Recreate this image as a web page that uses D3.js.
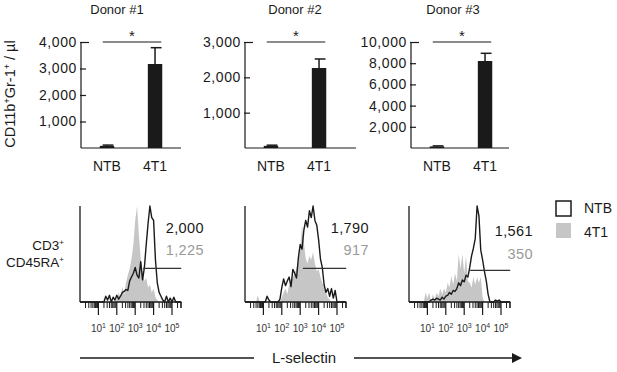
<!DOCTYPE html>
<html><head><meta charset="utf-8">
<script src="https://cdn.jsdelivr.net/npm/d3@7/dist/d3.min.js"></script>
<style>
html,body{margin:0;padding:0;background:#fff;}
svg{display:block;font-family:"Liberation Sans",Arial,Helvetica,sans-serif;}
</style></head>
<body>
<svg id="chart" width="617" height="372"></svg>
<script>
// ---------------- DATA ----------------
const donors = ["Donor #1", "Donor #2", "Donor #3"];
const groups = ["NTB", "4T1"];
const barMeans = [[80, 3170], [60, 2264], [150, 8208]];
const barErrors = [[30, 615], [20, 255], [50, 726]];
const barMax = [4000, 3000, 10000];
const barTicks1 = [1000, 2000, 3000, 4000];
const barTicks2 = [1000, 2000, 3000];
const barTicks3 = [2000, 4000, 6000, 8000, 10000];
const barTicks = [barTicks1, barTicks2, barTicks3];

// histograms: % of mode, sampled every 0.1 decade from 10^0 to 10^5.5
const ntbHist1 = [0,0,0,0,0,0,0,0,0,0,0,0,0,0, 6,2,7,0,5,2,7,3,6,10,11,13,12,22,26,30,36,28,25,42,23,36,60,82,100,88,85,44,20,10,6,2,0,6,0,4,0,5,0,0,0,0];
const t4Hist1  = [0,0,0,0,0,0,0,0,0,0,0,0,0,0,0,0,0,0,0,0, 3,10,4,16,8,20,28,35,45,60,85,100,70,45,30,22,25,15,18,10,14,5,2, 0,0,0,0,0,0,0,0,0,0,0,0,0];
const ntbHist2 = [0,0,0,0,0,0,0,0,0,0,0,0, 6,2,0,0,0,0,0,3,15,24,17,22,26,16,34,30,25,46,60,55,75,85,78,95,88,100,85,80,65,45,36,18,10,14,6,14,4,12,0,0,0,0,0,0];
const t4Hist2  = [0,0,0,0,0,0,0,7,0,0,0,0,0,0,0,0,0,0,0,0, 5,10,14,8,18,22,26,30,35,42,55,80,62,45,40,48,44,52,40,32,34,26,20,15,10,5,2, 0,0,0,0,0,0,0,0,0];
const ntbHist3 = [0,0,0,0,0,0,0,0,0,0,0,0, 2,3,2,4,3,2,5,3,6,7,10,8,12,11,14,20,17,23,21,28,26,36,48,56,66,100,90,54,44,32,22,8,0,0,0,2,1,2,0,0,0,0,0,0];
const t4Hist3  = [0,0,0,0,0,0,0,0,0, 10,4,10,0,8,3,10,6,14,8,14,10,20,15,27,18,30,22,50,35,50,30,48,22,20,15,26,18,26,20,26,5, 0,0,0,0,0,0,0,0,0,0,0,0,0,0,0];
const ntbHists = [ntbHist1, ntbHist2, ntbHist3];
const t4Hists = [t4Hist1, t4Hist2, t4Hist3];
const ntbCounts = ["2,000", "1,790", "1,561"];
const t4Counts = ["1,225", "917", "350"];
const gateStartLog = [3.43, 3.15, 3.32];
const gateLevel = [35, 35, 33];
const logTicks = [1, 2, 3, 4, 5];

// ---------------- LAYOUT ----------------
const svg = d3.select("#chart");
const ink = "#1a1a1a", grayFill = "#c6c6c6", grayText = "#9a9a9a";
const barLayout = [
  {axisX: 81, endX: 181, titleX: 117},
  {axisX: 245, endX: 356, titleX: 295},
  {axisX: 411, endX: 509, titleX: 453}
];
const barTop = 42, barBase = 148;

barLayout.forEach((L, p) => {
  const g = svg.append("g");
  const y = d3.scaleLinear().domain([0, barMax[p]]).range([barBase, barTop]);
  const x = d3.scaleBand().domain(groups).range([L.axisX, L.axisX + 100])
    .paddingInner(0.7).paddingOuter(0.39);
  g.append("text").attr("x", L.titleX).attr("y", 13.5).attr("text-anchor", "middle")
    .attr("font-size", 13).attr("fill", ink).text(donors[p]);
  const ax = g.append("g").attr("transform", `translate(${L.axisX},0)`)
    .call(d3.axisLeft(y).tickValues(barTicks[p]).tickSize(-5).tickPadding(4).tickFormat(d3.format(",")));
  ax.select(".domain").remove();
  ax.selectAll(".tick line").attr("stroke", ink).attr("stroke-width", 1.2)
    .attr("x1", -1).attr("x2", d => d === barMax[p] ? 8 : 5);
  ax.selectAll(".tick text").attr("font-size", 14).attr("fill", ink)
    .attr("font-family", "'Liberation Sans',Arial,sans-serif").attr("letter-spacing", 0.6);
  g.append("line").attr("x1", L.axisX).attr("x2", L.axisX).attr("y1", y(0)).attr("y2", y(barMax[p]))
    .attr("stroke", ink).attr("stroke-width", 1.2);
  g.append("line").attr("x1", L.axisX).attr("x2", L.endX).attr("y1", y(0)).attr("y2", y(0))
    .attr("stroke", ink).attr("stroke-width", 1.2);
  groups.forEach((c, i) => {
    const bx = x(c), bw = x.bandwidth();
    const v = barMeans[p][i], e = barErrors[p][i];
    g.append("line").attr("x1", bx + bw / 2).attr("x2", bx + bw / 2)
      .attr("y1", y(v)).attr("y2", y(v + e)).attr("stroke", ink).attr("stroke-width", 1.5);
    g.append("line").attr("x1", bx + bw * 0.2).attr("x2", bx + bw * 0.95)
      .attr("y1", y(v + e)).attr("y2", y(v + e)).attr("stroke", ink).attr("stroke-width", 1.5);
    g.append("rect").attr("x", bx).attr("y", y(v)).attr("width", bw).attr("height", y(0) - y(v))
      .attr("fill", ink);
    g.append("text").attr("x", bx + bw / 2).attr("y", 171).attr("text-anchor", "middle")
      .attr("font-size", 14).attr("fill", ink).text(c);
  });
  const s1 = x("NTB") + 3, s2 = x("4T1") + x.bandwidth() - 1;
  g.append("line").attr("x1", s1).attr("x2", s2).attr("y1", y(barMax[p])).attr("y2", y(barMax[p]))
    .attr("stroke", ink).attr("stroke-width", 1.2);
  g.append("text").attr("x", (s1 + s2) / 2).attr("y", 41).attr("text-anchor", "middle")
    .attr("font-size", 15).attr("fill", ink).text("*");
});

const yl = svg.append("text").attr("transform", "translate(15,94) rotate(-90)")
  .attr("text-anchor", "middle").attr("font-size", 14.5).attr("fill", ink);
yl.append("tspan").text("CD11b");
yl.append("tspan").attr("font-size", 9).attr("dy", -5).text("+");
yl.append("tspan").attr("dy", 5).text("Gr-1");
yl.append("tspan").attr("font-size", 9).attr("dy", -5).text("+");
yl.append("tspan").attr("dy", 5).text(" / µl");

// ---------------- HISTOGRAMS ----------------
const histLayout = [{axisX: 80, countY: [233, 255]}, {axisX: 245, countY: [233, 255]}, {axisX: 409, countY: [236, 259]}];
const hTop = 206, hBase = 302, decades = 5.5, pxDec = 18.4;

histLayout.forEach((L, p) => {
  const g = svg.append("g");
  const x = d3.scaleLog().domain([1, Math.pow(10, decades)]).range([L.axisX, L.axisX + decades * pxDec]);
  const y = d3.scaleLinear().domain([0, 100]).range([hBase, hTop]);
  const pts = arr => arr.map((v, i) => [Math.pow(10, i * 0.1), v]);
  g.append("path").datum(pts(t4Hists[p]))
    .attr("d", d3.area().x(d => x(d[0])).y0(y(0)).y1(d => y(d[1])))
    .attr("fill", grayFill);
  g.append("path").datum(pts(ntbHists[p]))
    .attr("d", d3.line().x(d => x(d[0])).y(d => y(d[1])))
    .attr("fill", "none").attr("stroke", ink).attr("stroke-width", 1.4).attr("stroke-linejoin", "round");
  g.append("line").attr("x1", L.axisX).attr("x2", L.axisX).attr("y1", hBase).attr("y2", hTop)
    .attr("stroke", ink).attr("stroke-width", 1.3);
  g.append("line").attr("x1", L.axisX).attr("x2", x.range()[1]).attr("y1", hBase).attr("y2", hBase)
    .attr("stroke", ink).attr("stroke-width", 1.3);
  const minor = [];
  for (let k = 0; k <= 5; k++) for (let m = 2; m <= 9; m++) {
    const v = m * Math.pow(10, k);
    if (v <= Math.pow(10, decades)) minor.push(v);
  }
  minor.push(Math.pow(10, decades));
  g.selectAll(".mn").data(minor).enter().append("line")
    .attr("x1", d => x(d)).attr("x2", d => x(d)).attr("y1", hBase).attr("y2", hBase + 6)
    .attr("stroke", ink).attr("stroke-width", 1);
  const major = logTicks.map(k => Math.pow(10, k));
  g.selectAll(".mj").data(major).enter().append("line")
    .attr("x1", d => x(d)).attr("x2", d => x(d)).attr("y1", hBase).attr("y2", hBase + 13)
    .attr("stroke", ink).attr("stroke-width", 1.2);
  logTicks.forEach(k => {
    const t = g.append("text").attr("x", x(Math.pow(10, k))).attr("y", 332)
      .attr("text-anchor", "middle").attr("font-size", 10).attr("fill", "#333");
    t.append("tspan").text("10");
    t.append("tspan").attr("font-size", 7).attr("dy", -4).text(String(k));
  });
  g.append("line").attr("x1", x(Math.pow(10, gateStartLog[p]))).attr("x2", x.range()[1])
    .attr("y1", y(gateLevel[p])).attr("y2", y(gateLevel[p]))
    .attr("stroke", "#333").attr("stroke-width", 1.3);
  g.append("text").attr("x", L.axisX + 124).attr("y", L.countY[0]).attr("text-anchor", "end")
    .attr("font-size", 14.5).attr("letter-spacing", 0.4).attr("fill", ink).text(ntbCounts[p]);
  g.append("text").attr("x", L.axisX + 124).attr("y", L.countY[1]).attr("text-anchor", "end")
    .attr("font-size", 14.5).attr("letter-spacing", 0.4).attr("fill", grayText).text(t4Counts[p]);
});

const r1 = svg.append("text").attr("x", 64).attr("y", 250).attr("text-anchor", "end").attr("font-size", 13.5).attr("fill", ink);
r1.append("tspan").text("CD3");
r1.append("tspan").attr("font-size", 8).attr("dy", -5).text("+");
const r2 = svg.append("text").attr("x", 64).attr("y", 267).attr("text-anchor", "end").attr("font-size", 13.5).attr("fill", ink);
r2.append("tspan").text("CD45RA");
r2.append("tspan").attr("font-size", 8).attr("dy", -5).text("+");

const legend = svg.append("g");
[["NTB", "#fff", ink, 201, 213], ["4T1", grayFill, "none", 223, 237]].forEach(d => {
  legend.append("rect").attr("x", 556).attr("y", d[3]).attr("width", 15).attr("height", 15)
    .attr("fill", d[1]).attr("stroke", d[2]).attr("stroke-width", 1.5);
  legend.append("text").attr("x", 584).attr("y", d[4]).attr("font-size", 14).attr("fill", ink).text(d[0]);
});

svg.append("line").attr("x1", 80).attr("x2", 254).attr("y1", 358).attr("y2", 358).attr("stroke", ink).attr("stroke-width", 1.6);
svg.append("line").attr("x1", 354).attr("x2", 514).attr("y1", 358).attr("y2", 358).attr("stroke", ink).attr("stroke-width", 1.6);
svg.append("path").attr("d", "M512,353 L522,358 L512,363 Z").attr("fill", ink);
svg.append("text").attr("x", 304).attr("y", 363).attr("text-anchor", "middle").attr("font-size", 15).attr("fill", ink).text("L-selectin");
</script>
</body></html>
